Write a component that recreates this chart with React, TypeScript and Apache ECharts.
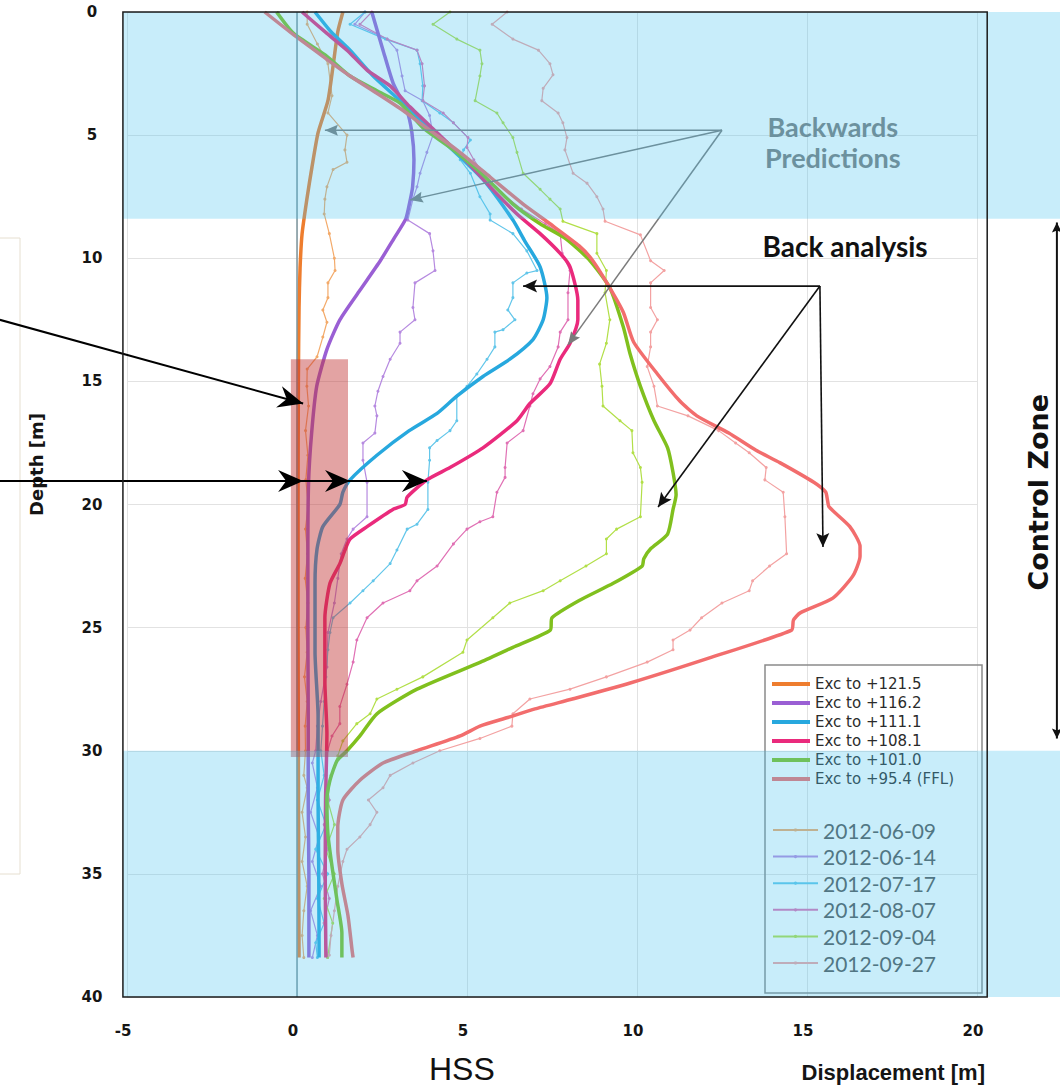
import React, { useEffect, useRef } from 'react';
import * as echarts from 'echarts';

// ---- axes -------------------------------------------------------------
const X_MIN = -5;
const X_MAX = 20;
const X_STEP = 5;
const DEPTH_MIN = 0;
const DEPTH_MAX = 40;
const DEPTH_STEP = 5;
// plot frame reaches slightly past the labelled range
const FRAME_X = [-5.12, 20.3];

// ---- calculated profiles (displacement [m], depth [m]) -----------------
const calcNames = ['Exc to +121.5', 'Exc to +116.2', 'Exc to +111.1', 'Exc to +108.1', 'Exc to +101.0', 'Exc to +95.4 (FFL)'];
const calcColors = ['#ee7d2e', '#9a5fd4', '#27a8de', '#ea2a7c', '#80c01e', '#f26d6d'];

const exc1215 = [[1.35, 0], [1.2, 0.8], [1.06, 2.2], [0.91, 3.6], [0.62, 4.9], [0.44, 6.3], [0.29, 7.6], [0.15, 9.0], [0.09, 10.4], [0.06, 12], [0.04, 15], [0.03, 20], [0.03, 25], [0.04, 30], [0.05, 35], [0.06, 38.4]];
const exc1162 = [[2.2, 0], [2.53, 1.55], [2.83, 2.9], [3.23, 4.0], [3.38, 4.9], [3.44, 6.0], [3.4, 7.1], [3.32, 7.7], [3.2, 8.4], [2.85, 9.2], [2.45, 10.1], [1.85, 11.3], [1.26, 12.5], [0.88, 13.7], [0.58, 15.2], [0.43, 17.1], [0.34, 19.1], [0.32, 22], [0.32, 25], [0.33, 28.6], [0.33, 32], [0.35, 35], [0.35, 38.4]];
const exc1111 = [[0.53, 0], [1.0, 0.8], [1.56, 1.55], [2.24, 2.6], [3.03, 3.6], [3.7, 4.5], [4.5, 5.5], [5.47, 6.8], [6.35, 8.45], [6.7, 9.3], [7.15, 10.35], [7.35, 11.6], [7.24, 12.5], [6.94, 13.3], [6.26, 14.1], [5.47, 14.8], [4.7, 15.6], [4.12, 16.3], [3.3, 17.0], [2.35, 18.0], [1.56, 19.0], [1.35, 19.5], [1.26, 20.0], [0.76, 20.9], [0.59, 21.8], [0.53, 23.2], [0.53, 26], [0.62, 28.6], [0.62, 32], [0.64, 35], [0.65, 38.4]];
const exc1081 = [[0.15, 0], [0.88, 0.87], [1.47, 1.55], [2.06, 2.36], [2.74, 3.0], [3.32, 3.85], [4.12, 4.9], [4.88, 5.9], [5.68, 7.1], [6.47, 8.2], [7.15, 9.0], [7.74, 9.8], [8.03, 10.35], [8.26, 11.7], [8.26, 12.5], [8.03, 13.45], [7.74, 14.1], [7.44, 15.1], [6.85, 15.9], [6.47, 16.6], [5.47, 17.7], [4.5, 18.5], [3.82, 19.0], [3.24, 19.7], [3.18, 20.0], [2.82, 20.2], [2.06, 20.9], [1.56, 21.4], [1.41, 21.85], [1.26, 22.4], [0.97, 23.2], [0.82, 24.6], [0.82, 27.2], [0.88, 29.3], [0.84, 32], [0.83, 35], [0.85, 38.4]];
const exc1010 = [[-0.6, 0], [-0.1, 0.87], [0.88, 1.8], [1.56, 2.6], [2.35, 3.2], [3.03, 3.7], [3.7, 4.7], [4.5, 5.5], [5.38, 6.5], [6.35, 7.8], [7.15, 8.6], [7.9, 9.2], [8.62, 10.1], [9.2, 11.2], [9.6, 12.8], [9.8, 13.9], [10.1, 15.2], [10.5, 16.6], [10.9, 17.7], [11.06, 18.7], [11.15, 19.6], [11.06, 20.2], [10.9, 21.2], [10.4, 21.8], [10.2, 22.2], [10.15, 22.5], [9.3, 23.2], [8.3, 23.9], [7.5, 24.6], [7.45, 25.1], [6.35, 25.8], [5.4, 26.4], [3.53, 27.5], [2.35, 28.5], [1.85, 29.4], [1.47, 30.0], [1.18, 30.4], [0.97, 31.2], [0.88, 32], [0.91, 33.4], [1.03, 34.7], [1.18, 36.1], [1.32, 37.4], [1.32, 38.4]];
const exc954 = [[-0.95, 0], [-0.15, 0.87], [0.76, 1.8], [1.56, 2.6], [2.35, 3.3], [3.12, 4.0], [3.9, 4.8], [4.7, 5.6], [5.68, 6.7], [6.65, 7.8], [7.44, 8.6], [8.3, 9.5], [8.7, 10.1], [9.2, 11.2], [9.6, 12.2], [9.9, 13.4], [10.6, 14.7], [11.26, 15.8], [11.76, 16.4], [12.7, 17.1], [13.5, 17.8], [14.2, 18.3], [15.2, 19.1], [15.55, 19.5], [15.6, 19.8], [15.65, 20.1], [16.26, 20.9], [16.56, 21.7], [16.56, 22.1], [16.35, 22.9], [15.76, 23.8], [14.8, 24.4], [14.6, 24.7], [14.55, 25.1], [12.2, 26.2], [9.8, 27.25], [8.1, 27.9], [7.0, 28.3], [6.2, 28.65], [5.38, 29.0], [4.8, 29.4], [3.53, 30.0], [2.53, 30.5], [1.85, 31.2], [1.35, 32], [1.2, 33.1], [1.2, 34], [1.32, 35.4], [1.5, 36.7], [1.62, 38.1], [1.65, 38.4]];
const calcData = [exc1215, exc1162, exc1111, exc1081, exc1010, exc954];

// ---- inclinometer readings (displacement [m], depth [m]) ----------------
const dateNames = ['2012-06-09', '2012-06-14', '2012-07-17', '2012-08-07', '2012-09-04', '2012-09-27'];
const dateColors = ['#f3aa6a', '#b68ae0', '#62c6ea', '#e070b4', '#b2df48', '#f3a2a2'];

const m0609 = [[0.3, 0], [0.3, 0.5], [0.6, 1.3], [0.91, 2.1], [1.03, 3.4], [0.91, 4.1], [1.47, 5.0], [1.41, 5.6], [1.47, 6.1], [1.06, 6.4], [0.88, 7.1], [0.82, 7.6], [0.8, 8.2], [0.95, 9.0], [1.1, 10.0], [1.12, 10.5], [0.91, 11.0], [0.91, 11.6], [0.76, 12.1], [0.88, 12.6], [0.76, 13.2], [0.59, 14.0], [0.3, 14.5], [0.29, 15.2], [0.34, 16], [0.25, 17], [0.32, 18], [0.26, 19], [0.33, 20], [0.25, 21], [0.31, 22], [0.24, 23], [0.32, 24], [0.26, 25], [0.3, 26], [0.22, 27], [0.3, 28], [0.24, 29], [0.25, 30], [0.2, 31], [0.3, 31.5], [0.15, 32.5], [0.25, 33.5], [0.15, 34.5], [0.3, 35.5], [0.2, 36.5], [0.15, 37.5], [0.2, 38.4]];
const m0614 = [[2.0, 0], [1.7, 0.5], [2.65, 1.1], [2.94, 1.55], [3.09, 2.6], [3.18, 3.2], [3.7, 3.6], [3.9, 4.2], [4.0, 5.0], [3.82, 5.7], [3.62, 6.55], [3.53, 7.1], [3.41, 7.6], [3.26, 8.45], [3.9, 9.0], [4.0, 9.7], [4.06, 10.5], [3.47, 11.0], [3.41, 12.0], [3.47, 12.5], [3.03, 13.0], [3.03, 13.45], [2.74, 14.1], [2.53, 14.8], [2.38, 15.4], [2.29, 16.0], [2.35, 16.4], [2.29, 17.1], [1.94, 17.5], [1.94, 18.2], [2.06, 19.1], [2.06, 20.5], [1.65, 21.0], [1.47, 21.4], [1.3, 22.0], [1.2, 23.0], [1.1, 24.0], [0.91, 25.2], [0.88, 26.6], [0.7, 28.0], [0.6, 29.0], [0.55, 30], [0.45, 30.5], [0.6, 31.5], [0.4, 32.5], [0.65, 33.5], [0.45, 34.5], [0.7, 35.5], [0.4, 36.5], [0.6, 37.5], [0.45, 38.4]];
const m0717 = [[2.0, 0], [1.56, 0.5], [2.6, 1.1], [3.53, 1.55], [3.62, 2.1], [3.7, 3.0], [3.68, 3.6], [4.2, 4.1], [4.6, 4.5], [5.1, 5.2], [4.9, 5.6], [4.8, 6.0], [5.1, 6.55], [5.38, 7.5], [5.68, 8.2], [5.68, 8.45], [6.35, 9.0], [6.76, 9.7], [7.06, 10.5], [6.76, 10.6], [6.35, 11.0], [6.35, 11.6], [6.2, 12.1], [6.41, 12.5], [6.06, 12.9], [5.82, 13.0], [5.82, 13.6], [5.59, 14.1], [5.29, 14.7], [5.0, 15.2], [4.7, 15.6], [4.7, 16.6], [4.5, 17.0], [4.12, 17.4], [3.9, 17.7], [3.9, 18.2], [3.85, 19.1], [3.85, 20.2], [3.53, 20.8], [3.24, 21.0], [2.94, 21.85], [2.74, 22.4], [2.24, 23.1], [1.94, 23.5], [1.56, 24.0], [1.06, 24.6], [0.97, 25.2], [0.91, 25.9], [0.85, 27], [0.8, 28], [0.75, 29], [0.7, 30], [0.8, 31], [0.6, 32], [0.85, 33], [0.55, 34], [0.9, 35], [0.6, 36], [0.8, 37], [0.55, 37.8], [0.6, 38.4]];
const m0807 = [[2.2, 0], [1.85, 0.5], [2.65, 1.1], [3.53, 1.55], [3.68, 2.1], [3.75, 3.0], [3.7, 3.6], [4.3, 4.1], [4.6, 4.5], [5.03, 5.1], [5.0, 5.5], [5.2, 6.0], [5.7, 7.0], [6.6, 8.0], [7.3, 8.6], [7.74, 9.0], [7.8, 9.8], [8.03, 10.5], [7.97, 11.4], [7.97, 12.5], [7.74, 13.0], [7.68, 13.6], [7.44, 14.4], [7.15, 14.9], [6.94, 15.5], [6.85, 16.0], [6.65, 17.0], [6.18, 17.5], [6.12, 18.5], [6.12, 18.9], [5.88, 19.5], [5.76, 20.5], [5.38, 20.7], [5.0, 21.0], [4.6, 21.6], [4.12, 22.5], [3.53, 23.1], [3.32, 23.5], [2.53, 24.0], [2.06, 24.6], [1.76, 25.5], [1.65, 26.4], [1.47, 27.3], [1.26, 28.2], [1.26, 28.9], [1.03, 29.4], [0.9, 30], [0.85, 31], [0.95, 32], [0.8, 33], [0.9, 34], [0.75, 35], [0.95, 36], [0.8, 37], [0.9, 38.4]];
const m0904 = [[4.5, 0], [4.0, 0.5], [4.7, 1.1], [5.38, 1.55], [5.44, 2.1], [5.38, 2.6], [5.24, 3.6], [5.88, 4.1], [6.06, 4.5], [6.35, 5.1], [6.47, 5.7], [6.65, 6.55], [7.15, 7.2], [7.44, 7.6], [7.74, 8.0], [7.82, 8.5], [8.82, 9.0], [8.82, 9.8], [9.1, 10.5], [9.06, 11.4], [9.2, 12.5], [9.1, 13.45], [8.9, 14.3], [8.97, 15.2], [9.0, 16.0], [9.5, 16.6], [9.85, 17.0], [9.88, 17.9], [10.1, 18.5], [10.15, 19.1], [10.1, 20.5], [9.4, 21.0], [9.1, 21.4], [9.1, 22.0], [8.5, 22.5], [7.74, 23.1], [7.24, 23.5], [6.26, 24.0], [5.76, 24.6], [5.0, 25.5], [4.88, 26.0], [3.7, 27.0], [2.94, 27.5], [2.35, 27.9], [2.15, 28.5], [1.76, 28.9], [1.35, 29.6], [1.2, 30.2], [1.0, 31], [0.9, 32], [1.1, 33], [0.85, 34], [1.1, 35], [0.8, 36], [1.05, 37], [0.9, 38.4]];
const m0927 = [[6.18, 0], [5.74, 0.5], [6.35, 1.1], [7.1, 1.55], [7.44, 2.1], [7.53, 2.55], [7.24, 3.1], [7.2, 3.6], [7.68, 4.1], [7.82, 4.5], [7.94, 5.1], [7.88, 5.6], [8.12, 6.55], [8.53, 6.95], [8.82, 7.5], [9.0, 8.0], [9.06, 8.5], [10.1, 9.05], [10.4, 10.1], [10.8, 10.5], [10.4, 11.0], [10.4, 12.0], [10.6, 12.5], [10.4, 13.0], [10.4, 13.6], [10.3, 14.4], [10.5, 15.2], [10.6, 16.0], [11.5, 16.4], [12.4, 17.0], [12.9, 17.5], [13.3, 17.9], [13.8, 18.5], [13.76, 19.0], [14.3, 19.5], [14.35, 20.5], [14.4, 22.0], [13.9, 22.5], [13.4, 23.1], [13.3, 23.5], [12.5, 24.0], [11.9, 24.6], [11.56, 25.1], [11.06, 25.5], [11.06, 25.9], [10.3, 26.4], [9.1, 27.0], [8.03, 27.5], [6.85, 27.9], [6.35, 28.5], [6.32, 29.0], [5.38, 29.5], [4.2, 30.0], [3.41, 30.5], [2.74, 31.0], [2.53, 31.5], [2.1, 32.0], [2.35, 32.5], [2.15, 33.0], [1.85, 33.5], [1.47, 34.0], [1.35, 34.5], [1.2, 35.5], [1.1, 36.5], [1.0, 37.5], [0.95, 38.3]];
const measData = [m0609, m0614, m0717, m0807, m0904, m0927];

// ---- zones and call-outs (displacement, depth) --------------------------
const upperZone = [0, 8.4];
const lowerZone = [30, 40];
const focusBox = [[-0.18, 14.1], [1.5, 30.25]];
const controlZone = [22.35, 8.55, 29.5];

const predictionOrigin = [12.5, 4.8];
const predictionTargets = [[0.82, 4.8], [3.32, 7.63], [7.97, 13.52]];
const analysisOrigin = [15.38, 11.13];
const analysisTargets = [[6.65, 11.13], [10.62, 20.1], [15.47, 21.73]];
const leftPointerFrom = [-8.74, 12.5];
const leftPointerTo = [0.18, 15.9];
const leftRayDepth = 19.05;
const leftRayFrom = -8.74;
const leftRayStops = [0.18, 1.56, 3.82];

const FRAME = '#1b1b1b';
const BAND = 'rgba(72,195,238,0.3)';

function buildOption(): any {
  const calcSeries = calcData.map((d, i) => ({
    type: 'line',
    name: calcNames[i],
    data: d,
    smooth: 0.2,
    symbol: 'none',
    showSymbol: false,
    lineStyle: { width: 3.5, color: calcColors[i] },
    itemStyle: { color: calcColors[i] },
    emphasis: { disabled: true },
    z: 3,
  }));
  const measSeries = measData.map((d, i) => ({
    type: 'line',
    name: dateNames[i],
    data: d,
    symbol: 'circle',
    symbolSize: 3,
    showSymbol: true,
    lineStyle: { width: 1.2, color: dateColors[i] },
    itemStyle: { color: dateColors[i] },
    emphasis: { disabled: true },
    z: 2,
    ...(i === 0
      ? {
          markLine: {
            silent: true,
            symbol: 'none',
            label: { show: false },
            lineStyle: { color: '#7d949c', width: 1.5, type: 'solid' },
            data: [{ xAxis: 0 }],
          },
        }
      : {}),
  }));

  const tickFont = { fontFamily: 'DejaVu Sans', fontWeight: 'bold', fontSize: 15, color: '#151515' };

  return {
    animation: false,
    backgroundColor: '#ffffff',
    grid: { left: 127, right: 83, top: 12, bottom: 91, show: false },
    xAxis: {
      type: 'value',
      min: X_MIN,
      max: X_MAX,
      interval: X_STEP,
      position: 'bottom',
      axisLine: { show: false, onZero: false },
      axisTick: { show: false },
      axisLabel: { ...tickFont, margin: 26, padding: [0, 8, 0, 0] },
      splitLine: { show: true, lineStyle: { color: '#e2e2e2', width: 1 } },
      name: 'Displacement [m]',
      nameLocation: 'end',
      nameGap: 8,
      nameTextStyle: {
        fontFamily: 'Liberation Sans',
        fontWeight: 'bold',
        fontSize: 22,
        color: '#151515',
        align: 'right',
        verticalAlign: 'top',
        padding: [64, 0, 0, 0],
      },
    },
    yAxis: {
      type: 'value',
      inverse: true,
      min: DEPTH_MIN,
      max: DEPTH_MAX,
      interval: DEPTH_STEP,
      axisLine: { show: false, onZero: false },
      axisTick: { show: false },
      axisLabel: { ...tickFont, margin: 35, align: 'center' },
      splitLine: { show: true, lineStyle: { color: '#e2e2e2', width: 1 } },
      name: 'Depth [m]',
      nameLocation: 'middle',
      nameGap: 82,
      nameRotate: 90,
      nameTextStyle: {
        fontFamily: 'DejaVu Sans',
        fontWeight: 'bold',
        fontSize: 18,
        color: '#151515',
        padding: [0, 0, 0, 80],
      },
    },
    legend: [
      {
        data: calcNames,
        orient: 'vertical',
        left: 772,
        top: 676,
        padding: 0,
        icon: 'rect',
        itemWidth: 38,
        itemHeight: 4,
        itemGap: 3,
        selectedMode: false,
        textStyle: { fontFamily: 'DejaVu Sans', fontSize: 15, lineHeight: 16, color: '#2b2b2b' },
      },
      {
        data: dateNames,
        orient: 'vertical',
        left: 772,
        top: 819,
        padding: 0,
        itemWidth: 45,
        itemHeight: 4,
        itemGap: 4.6,
        selectedMode: false,
        textStyle: { fontFamily: 'Lato', fontSize: 21, lineHeight: 22, color: '#555555' },
      },
    ],
    series: [...measSeries, ...calcSeries],
  };
}

function head(tip: number[], from: number[], len: number, half: number, notch: number, color: string, z: number) {
  const dx = tip[0] - from[0];
  const dy = tip[1] - from[1];
  const L = Math.hypot(dx, dy) || 1;
  const ux = dx / L;
  const uy = dy / L;
  const nx = -uy;
  const ny = ux;
  const bx = tip[0] - ux * len;
  const by = tip[1] - uy * len;
  return {
    type: 'polygon',
    z,
    silent: true,
    shape: {
      points: [
        [tip[0], tip[1]],
        [bx + nx * half, by + ny * half],
        [tip[0] - ux * (len - notch), tip[1] - uy * (len - notch)],
        [bx - nx * half, by - ny * half],
      ],
    },
    style: { fill: color },
  };
}

function seg(a: number[], b: number[], color: string, width: number, z: number) {
  return {
    type: 'line',
    z,
    silent: true,
    shape: { x1: a[0], y1: a[1], x2: b[0], y2: b[1] },
    style: { stroke: color, lineWidth: width },
  };
}

function buildGraphics(chart: any, width: number): any[] {
  const px = (p: number[]) => chart.convertToPixel({ gridIndex: 0 }, p) as number[];
  const els: any[] = [];

  // frame corners
  const tl = px([FRAME_X[0], DEPTH_MIN]);
  const br = px([FRAME_X[1], DEPTH_MAX]);

  // shaded soil layers, running out to the right edge
  [upperZone, lowerZone].forEach((z) => {
    const a = px([FRAME_X[0], z[0]]);
    const b = px([FRAME_X[0], z[1]]);
    els.push({
      type: 'rect',
      z: 10,
      silent: true,
      shape: { x: a[0], y: a[1], width: width - a[0], height: b[1] - a[1] },
      style: { fill: BAND },
    });
  });

  // highlighted wall zone
  const f0 = px(focusBox[0]);
  const f1 = px(focusBox[1]);
  els.push({
    type: 'rect',
    z: 6,
    silent: true,
    shape: { x: f0[0], y: f0[1], width: f1[0] - f0[0], height: f1[1] - f0[1] },
    style: { fill: 'rgba(192,52,52,0.45)' },
  });

  // legend frame
  els.push({
    type: 'rect',
    z: 5,
    silent: true,
    shape: { x: 765, y: 665, width: 217, height: 328 },
    style: { fill: 'none', stroke: '#8a8a8a', lineWidth: 1.5 },
  });

  // side box of the neighbouring panel
  els.push({
    type: 'rect',
    z: 5,
    silent: true,
    shape: { x: -2, y: 238, width: 22, height: 636 },
    style: { fill: 'none', stroke: '#e6dfd0', lineWidth: 1 },
  });

  // backwards predictions call-out (grey)
  const po = px(predictionOrigin);
  predictionTargets.forEach((t) => {
    const tp = px(t);
    els.push(seg(po, tp, '#7b7b7b', 1.5, 7));
    els.push(head(tp, po, 13, 5.5, 2, '#7b7b7b', 7));
  });
  const predLabel = px([15.76, 5.28]);
  els.push({
    type: 'text',
    z: 7,
    silent: true,
    x: predLabel[0],
    y: predLabel[1],
    style: {
      text: 'Backwards\nPredictions',
      fill: '#7b7b7b',
      font: 'bold 27px Lato',
      lineHeight: 31,
      align: 'center',
      verticalAlign: 'middle',
    },
  });

  // back analysis call-out (black)
  const ao = px(analysisOrigin);
  analysisTargets.forEach((t) => {
    const tp = px(t);
    els.push(seg(ao, tp, '#111', 1.6, 20));
    els.push(head(tp, ao, 14, 6.5, 3, '#111', 20));
  });
  const anLabel = px([16.12, 9.5]);
  els.push({
    type: 'text',
    z: 20,
    silent: true,
    x: anLabel[0],
    y: anLabel[1],
    style: { text: 'Back analysis', fill: '#111', font: 'bold 28px Lato', align: 'center', verticalAlign: 'middle' },
  });

  // pointers coming in from the left
  const lf = px(leftPointerFrom);
  const lt = px(leftPointerTo);
  els.push(seg(lf, lt, '#000', 2, 20));
  els.push(head(lt, lf, 25, 11, 8, '#000', 20));
  const rf = px([leftRayFrom, leftRayDepth]);
  const stops = leftRayStops.map((x) => px([x, leftRayDepth]));
  els.push(seg(rf, stops[stops.length - 1], '#000', 2, 20));
  stops.forEach((s) => els.push(head(s, rf, 25, 11, 8, '#000', 20)));

  // control zone marker on the right
  const c0 = px([controlZone[0], controlZone[1]]);
  const c1 = px([controlZone[0], controlZone[2]]);
  els.push(seg(c0, c1, '#111', 2, 20));
  els.push(head(c0, c1, 10, 5, 2, '#111', 20));
  els.push(head(c1, c0, 10, 5, 2, '#111', 20));
  const cz = px([21.8, 19.5]);
  els.push({
    type: 'text',
    z: 20,
    silent: true,
    x: cz[0],
    y: cz[1],
    rotation: Math.PI / 2,
    style: { text: 'Control Zone', fill: '#111', font: 'bold 27px "DejaVu Sans"', align: 'center', verticalAlign: 'middle' },
  });

  // plot frame on top
  els.push({
    type: 'rect',
    z: 30,
    silent: true,
    shape: { x: tl[0], y: tl[1], width: br[0] - tl[0], height: br[1] - tl[1] },
    style: { fill: 'none', stroke: FRAME, lineWidth: 1.5 },
  });

  // model label under the axis
  const hss = px([4.85, DEPTH_MAX]);
  els.push({
    type: 'text',
    z: 20,
    silent: true,
    x: hss[0],
    y: hss[1] + 72,
    style: { text: 'HSS', fill: '#111', font: '32px "Liberation Sans"', align: 'center', verticalAlign: 'middle' },
  });

  return els;
}

export default function App() {
  const ref = useRef<HTMLDivElement>(null);
  useEffect(() => {
    if (!ref.current) return;
    const chart = echarts.init(ref.current, undefined, { renderer: 'svg' });
    chart.setOption(buildOption());
    chart.setOption({ graphic: buildGraphics(chart, chart.getWidth()) });
    return () => chart.dispose();
  }, []);
  return (
    <div
      ref={ref}
      style={{ position: 'fixed', left: 0, top: 0, width: 1060, height: 1088, background: '#ffffff' }}
    />
  );
}
